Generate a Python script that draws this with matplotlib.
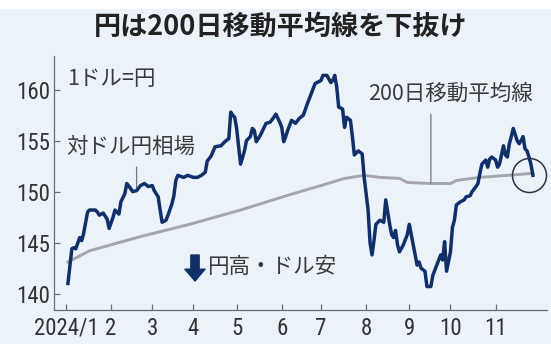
import numpy as np
import matplotlib
matplotlib.use("Agg")
import matplotlib.pyplot as plt
from matplotlib import font_manager
from matplotlib.patches import Rectangle

# USD/JPY daily closes (yen per dollar)
rate_dates = [
    "2024-01-02", "2024-01-04", "2024-01-05", "2024-01-08", "2024-01-10", "2024-01-11",
    "2024-01-12", "2024-01-16", "2024-01-17", "2024-01-22", "2024-01-23", "2024-01-24",
    "2024-01-26", "2024-01-30", "2024-01-31", "2024-02-02", "2024-02-05", "2024-02-07",
    "2024-02-08", "2024-02-12", "2024-02-13", "2024-02-15", "2024-02-16", "2024-02-20",
    "2024-02-22", "2024-02-26", "2024-02-28", "2024-03-01", "2024-03-04", "2024-03-06",
    "2024-03-07", "2024-03-08", "2024-03-12", "2024-03-13", "2024-03-15", "2024-03-18",
    "2024-03-19", "2024-03-20", "2024-03-25", "2024-03-27", "2024-04-01", "2024-04-03",
    "2024-04-05", "2024-04-09", "2024-04-10", "2024-04-12", "2024-04-16", "2024-04-19",
    "2024-04-23", "2024-04-25", "2024-04-26", "2024-04-29", "2024-04-30", "2024-05-01",
    "2024-05-03", "2024-05-07", "2024-05-08", "2024-05-10", "2024-05-13", "2024-05-14",
    "2024-05-15", "2024-05-17", "2024-05-22", "2024-05-24", "2024-05-28", "2024-05-29",
    "2024-05-31", "2024-06-03", "2024-06-04", "2024-06-05", "2024-06-06", "2024-06-10",
    "2024-06-12", "2024-06-14", "2024-06-18", "2024-06-20", "2024-06-24", "2024-06-26",
    "2024-07-01", "2024-07-02", "2024-07-04", "2024-07-08", "2024-07-09", "2024-07-10",
    "2024-07-11", "2024-07-12", "2024-07-16", "2024-07-17", "2024-07-18", "2024-07-22",
    "2024-07-23", "2024-07-24", "2024-07-26", "2024-07-30", "2024-07-31", "2024-08-02",
    "2024-08-05", "2024-08-06", "2024-08-07", "2024-08-08", "2024-08-12", "2024-08-14",
    "2024-08-15", "2024-08-19", "2024-08-20", "2024-08-21", "2024-08-22", "2024-08-23",
    "2024-08-26", "2024-08-28", "2024-08-30", "2024-09-02", "2024-09-04", "2024-09-06",
    "2024-09-09", "2024-09-10", "2024-09-12", "2024-09-13", "2024-09-17", "2024-09-18",
    "2024-09-20", "2024-09-24", "2024-09-25", "2024-09-26", "2024-09-27", "2024-10-01",
    "2024-10-02", "2024-10-03", "2024-10-04", "2024-10-08", "2024-10-10", "2024-10-11",
    "2024-10-15", "2024-10-16", "2024-10-18", "2024-10-21", "2024-10-22", "2024-10-23",
    "2024-10-25", "2024-10-28", "2024-10-29", "2024-10-30", "2024-11-01", "2024-11-04",
    "2024-11-05", "2024-11-07", "2024-11-08", "2024-11-11", "2024-11-12", "2024-11-13",
    "2024-11-14", "2024-11-18", "2024-11-19", "2024-11-20", "2024-11-21", "2024-11-22",
    "2024-11-25", "2024-11-26", "2024-11-27", "2024-11-28",
]
rate_values = [
    141.0, 144.4, 144.5, 144.4, 145.5, 145.2,
    145.9, 148.0, 148.2, 148.2, 148.0, 147.7,
    147.9, 147.3, 146.4, 147.5, 148.2, 147.8,
    149.0, 149.8, 150.8, 150.3, 150.0, 150.1,
    150.6, 150.8, 150.5, 150.6, 150.1, 149.5,
    148.2, 147.0, 147.2, 147.7, 148.8, 149.6,
    151.1, 151.6, 151.4, 151.6, 151.4, 151.4,
    151.6, 151.9, 153.0, 153.5, 154.4, 154.5,
    154.9, 155.2, 157.8, 157.5, 157.3, 156.2,
    152.7, 154.0, 155.0, 155.4, 156.2, 156.0,
    154.9, 155.5, 156.7, 156.8, 157.3, 157.6,
    156.8, 156.3, 154.9, 155.4, 156.0, 157.0,
    156.7, 157.2, 157.5, 158.6, 159.6, 160.6,
    160.9, 161.4, 161.4, 160.7, 160.9, 161.4,
    160.3, 158.3, 158.1, 156.3, 157.3, 157.0,
    155.4, 153.6, 154.0, 153.7, 151.4, 148.2,
    145.0, 143.8, 145.2, 146.8, 147.2, 147.0,
    149.2, 146.8, 145.8, 145.5, 146.2, 144.8,
    144.1, 144.8, 145.8, 146.8, 144.8, 142.8,
    143.1, 142.5, 142.2, 140.7, 140.7, 141.8,
    142.8, 143.8, 143.3, 145.1, 142.2, 144.1,
    146.5, 147.2, 148.7, 149.0, 149.2, 149.5,
    149.6, 150.0, 150.5, 150.8, 151.8, 152.7,
    153.1, 152.4, 153.2, 153.4, 153.1, 152.4,
    152.7, 154.5, 153.6, 153.4, 154.7, 155.4,
    156.2, 155.0, 154.7, 155.0, 155.4, 154.2,
    154.0, 153.4, 152.7, 151.6,
]

# 200-day moving average
ma_dates = [
    "2024-01-02", "2024-01-17", "2024-02-22", "2024-03-28", "2024-05-03", "2024-06-07",
    "2024-07-01", "2024-07-17", "2024-07-31", "2024-08-12", "2024-08-26", "2024-08-30",
    "2024-09-17", "2024-10-01", "2024-10-04", "2024-10-22", "2024-11-11", "2024-11-28",
]
ma_values = [
    143.1, 144.2, 145.6, 146.8, 148.2, 149.7,
    150.6, 151.3, 151.6, 151.4, 151.3, 150.9,
    150.8, 150.8, 151.1, 151.4, 151.6, 151.8,
]

month_starts = [f"2024-{m:02d}-01" for m in range(1, 12)]
month_labels = ["2024/1"] + [str(m) for m in range(2, 12)]
y_ticks = [140, 145, 150, 155, 160]

title = "円は200日移動平均線を下抜け"

NAVY = "#11306a"
GRAY_LINE = "#a4a6aa"
BG = "#ebf2fa"
TEXT = "#3a3a3a"

JP = ["Noto Sans CJK JP", "DejaVu Sans"]

# narrow face for the numbers, if one is available
num_props = dict(family=["DejaVu Sans"], fontsize=14)
_faces = font_manager.fontManager.ttflist
_names = {f.name for f in _faces}
for cand in ("Liberation Sans Narrow", "DejaVu Sans Condensed", "Roboto Condensed",
             "Open Sans Condensed", "Noto Sans Condensed"):
    if cand in _names:
        num_props = dict(family=[cand, "DejaVu Sans"], fontsize=16.5)
        break
else:
    cond = [f for f in _faces if f.name in ("DejaVu Sans", "Roboto", "Noto Sans", "Open Sans")
            and str(f.stretch) in ("condensed", "semi-condensed", "500", "600", "700")]
    if cond:
        num_props = dict(family=[cond[0].name, "DejaVu Sans"], fontstretch=cond[0].stretch,
                         fontsize=16.5)

origin = "2024-01-01"
xr = np.busday_count(origin, np.array(rate_dates, dtype="datetime64[D]"))
xm = np.busday_count(origin, np.array(ma_dates, dtype="datetime64[D]"))
xt = np.busday_count(origin, np.array(month_starts, dtype="datetime64[D]"))

fig = plt.figure(figsize=(5.51, 3.44), dpi=100, facecolor="white")
fig.patches.append(Rectangle((0.0, 0.0), 1.0, 1 - 9 / 344, transform=fig.transFigure,
                             facecolor=BG, edgecolor="none", zorder=-10))

ax = fig.add_axes([54 / 551, 1 - 310 / 344, (547 - 54) / 551, (310 - 56) / 344])
ax.set_facecolor(BG)

ax.plot(xm, ma_values, color=GRAY_LINE, lw=2.1, solid_joinstyle="round", zorder=2)
ax.plot(xr, rate_values, color=NAVY, lw=2.5, solid_joinstyle="round", zorder=3)

ax.set_xlim(-6.1, 245.2)
ax.set_ylim(138.4, 163.3)

for s in ("top", "right"):
    ax.spines[s].set_visible(False)
for s in ("left", "bottom"):
    ax.spines[s].set_color("#6b6e73")
    ax.spines[s].set_linewidth(0.9)

ax.set_xticks(xt)
ax.set_xticklabels(month_labels, color="#333333", **num_props)
ax.set_yticks(y_ticks)
ax.set_yticklabels([str(v) for v in y_ticks], color="#333333", **num_props)
ax.tick_params(axis="x", direction="in", length=4, width=0.9, color="#6b6e73", pad=5)
ax.tick_params(axis="y", direction="in", length=4, width=0.9, color="#6b6e73", pad=3)

# title and labels
fig.text(280.7 / 551, 1 - 26.5 / 344, title, family=JP, fontsize=19.5, fontweight="bold",
         color="#222222", ha="center", va="center")
fig.text(66.7 / 551, 1 - 79 / 344, "1ドル=円", family=JP, fontsize=15.5,
         color=TEXT, ha="left", va="center")
fig.text(66.7 / 551, 1 - 147 / 344, "対ドル円相場", family=JP, fontsize=15.5,
         color=TEXT, ha="left", va="center")
fig.text(533 / 551, 1 - 94 / 344, "200日移動平均線", family=JP, fontsize=15.5,
         color=TEXT, ha="right", va="center")
fig.text(206.7 / 551, 1 - 266.7 / 344, "円高・ドル安", family=JP, fontsize=15.5,
         color=TEXT, ha="left", va="center")

# leader lines
i_lbl = rate_dates.index("2024-02-20")
ax.annotate("", xy=(xr[i_lbl], rate_values[i_lbl] + 0.3), xytext=(xr[i_lbl], 152.4),
            arrowprops=dict(arrowstyle="-", color="#777777", lw=0.9,
                            shrinkA=0, shrinkB=0))
i_ma = ma_dates.index("2024-09-17")
ax.annotate("", xy=(xm[i_ma], ma_values[i_ma]), xytext=(xm[i_ma], 157.6),
            arrowprops=dict(arrowstyle="-", color="#777777", lw=0.9,
                            shrinkA=0, shrinkB=0))

# down arrow before the yen-appreciation label
ax.annotate("", xy=(195 / 551, 1 - 281 / 344), xytext=(195 / 551, 1 - 255 / 344),
            xycoords="figure fraction", textcoords="figure fraction",
            arrowprops=dict(arrowstyle="simple,head_width=1.45,head_length=0.85,tail_width=0.6",
                            color=NAVY, mutation_scale=10, shrinkA=0, shrinkB=0))

# highlight the latest crossing
ax.plot([xr[-3]], [rate_values[-1]], marker="o", markersize=24.5, markerfacecolor="none",
        markeredgecolor="#2b3445", markeredgewidth=1.1, zorder=4)

fig.savefig("out.png", dpi=100, facecolor=fig.get_facecolor())
